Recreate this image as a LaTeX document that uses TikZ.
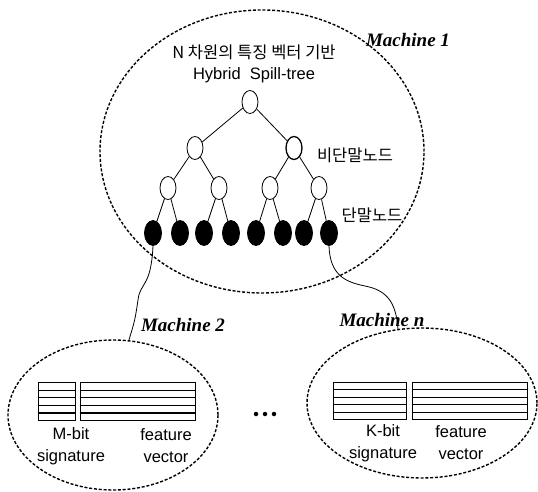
\documentclass[tikz,border=0pt]{standalone}
\usepackage{fontspec}
\setmainfont{Liberation Sans}
\newfontfamily\kr{Noto Sans CJK KR}
\newfontfamily\mach{Liberation Serif}
\usepackage{tikz}
\usetikzlibrary{calc,positioning,shapes.geometric}

\begin{document}
\begin{tikzpicture}[x=1pt, y=-1pt, line width=0.8pt,
    opennode/.style={draw, ellipse, minimum width=16pt, minimum height=23pt, inner sep=0pt},
    leafnode/.style={draw, fill=black, ellipse, minimum width=17pt, minimum height=25pt, inner sep=0pt},
    machine/.style={draw, ellipse, line width=1.4pt, dash pattern=on 3pt off 1.8pt, inner sep=0pt},
    mlabel/.style={font=\mach\bfseries\itshape\fontsize{19}{21}\selectfont, inner sep=0pt},
    txt/.style={font=\fontsize{16.5}{22}\selectfont, align=center, inner sep=0pt},
    krtxt/.style={font=\kr\fontsize{16.5}{20}\selectfont, inner sep=0pt},
    block/.style={draw, inner sep=0pt, minimum height=37.5pt}]
    \useasboundingbox (0,0) rectangle (538,492);

    % machines
    \node[machine, minimum width=324pt, minimum height=283pt] (m1) at (262,151.5) {};
    \node[machine, minimum width=210pt, minimum height=150pt] (m2) at (113,415) {};
    \node[machine, minimum width=230pt, minimum height=150pt] (mn) at (422,403) {};
    \node[mlabel] (t1) at (408,40) {Machine 1};
    \node[mlabel] (t2) at (183,325) {Machine 2};
    \node[mlabel] (tn) at (382,320) {Machine n};

    % spill-tree
    \node[krtxt] (title) at (254,52) {N 차원의 특징 벡터 기반};
    \node[txt] (sub) at (254,75) {Hybrid\ \ Spill-tree};
    \node[opennode] (r) at (250,102) {};
    \node[opennode] (a1) at (195,148) {};
    \node[opennode, line width=1.3pt] (a2) at (294,148) {};
    \node[opennode] (b1) at (168,188) {};
    \node[opennode] (b2) at (219,188) {};
    \node[opennode] (b3) at (270,188) {};
    \node[opennode] (b4) at (319,188) {};
    \foreach \x [count=\i] in {153,180,204,231,256,283,304,329}
      \node[leafnode] (l\i) at (\x,233) {};
    \foreach \p/\c in {r/a1, r/a2, a1/b1, a1/b2, a2/b3, a2/b4,
                       b1/l1, b1/l2, b2/l3, b2/l4, b3/l5, b3/l6, b4/l7, b4/l8}
      \draw (\p) -- (\c);
    \node[krtxt] (inner) at (355,155) {비단말노드};
    \node[krtxt] (outer) at (372,215) {단말노드};

    % tables
    \node[block, minimum width=37pt] (sig2) at (56.5,401.5) {};
    \node[block, minimum width=115pt] (vec2) at (137.5,401.5) {};
    \node[block, minimum width=73pt] (sign) at (369.5,401) {};
    \node[block, minimum width=115pt] (vecn) at (469.5,401) {};
    \foreach \n in {sig2,vec2,sign,vecn}
      \foreach \i in {1,...,4}
        \draw ($(\n.north west)!\i/5!(\n.south west)$) -- ($(\n.north east)!\i/5!(\n.south east)$);
    \foreach \n in {sig2,vec2}
      \draw[line width=1.4pt] ($(\n.north west)!4/5!(\n.south west)$) -- ($(\n.north east)!4/5!(\n.south east)$);
    \node[txt] (mbit) at (71,446) {M-bit\\signature};
    \node[txt] (fv2) at (166,446) {feature\\vector};
    \node[txt] (kbit) at (383,443) {K-bit\\signature};
    \node[txt] (fvn) at (461,443) {feature\\vector};

    % dots
    \foreach \x [count=\i] in {256,265,274}
      \node[circle, fill=black, inner sep=0pt, minimum size=4.5pt] (d\i) at (\x,414) {};

    % links
    \draw (l1.south) .. controls (151,288) and (140,282) .. (138,300) .. controls (135,320) .. (m2.78);
    \draw (l8.south) .. controls (330,275) and (345,282) .. (365,286) .. controls (385,290) and (396,300) .. (mn.108);
  \end{tikzpicture}
\end{document}
